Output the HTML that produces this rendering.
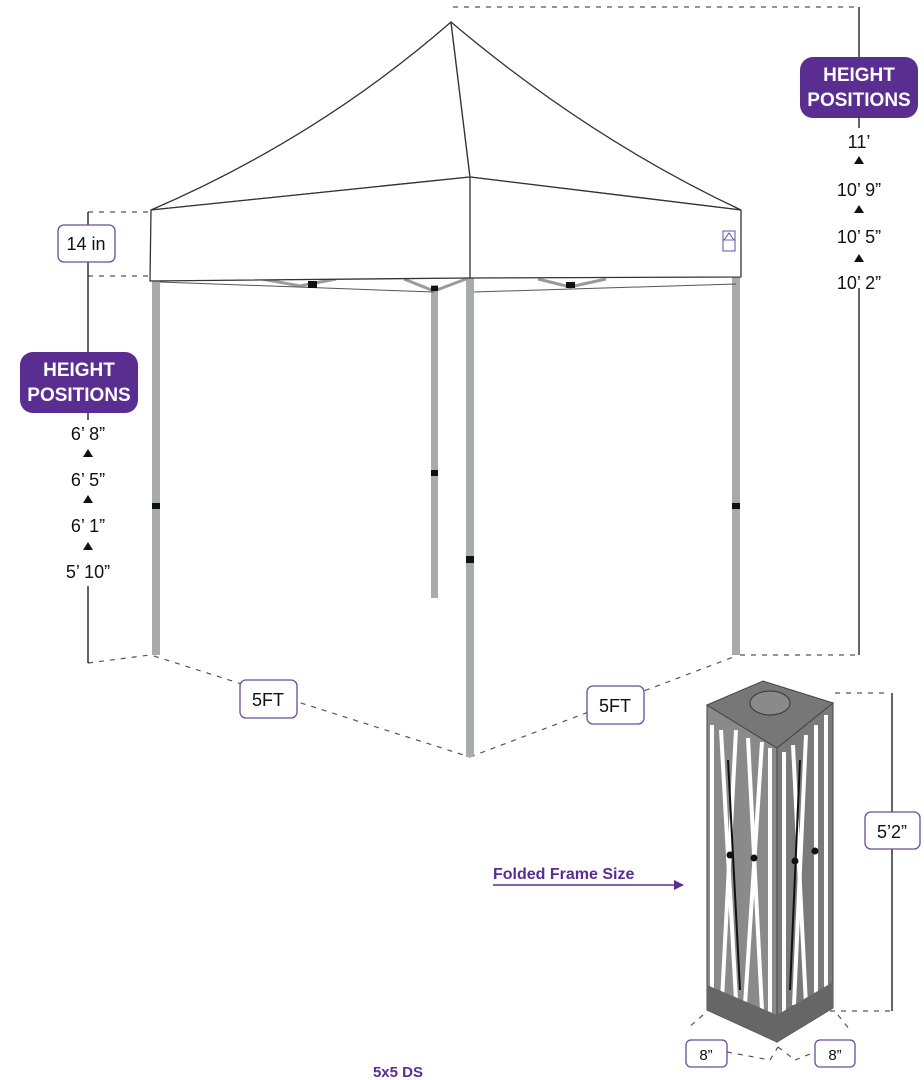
<!DOCTYPE html>
<html><head><meta charset="utf-8"><style>
html,body{margin:0;padding:0;background:#fff;}
svg{display:block;}
text{font-family:"Liberation Sans",sans-serif;}
</style></head><body>
<svg width="924" height="1080" viewBox="0 0 924 1080" xmlns="http://www.w3.org/2000/svg">
<g stroke="#555" stroke-width="1.2" stroke-dasharray="5,6" fill="none">
<line x1="453" y1="7" x2="858" y2="7"/>
<line x1="740" y1="655" x2="858" y2="655"/>
<line x1="88" y1="212" x2="150" y2="212"/>
<line x1="88" y1="276" x2="150" y2="276"/>
<line x1="88" y1="663" x2="150" y2="655"/>
<line x1="154" y1="656" x2="470" y2="757"/>
<line x1="470" y1="757" x2="736" y2="656"/>
<line x1="835" y1="693" x2="890" y2="693"/>
<line x1="830" y1="1011" x2="890" y2="1011"/>
<line x1="703" y1="1015" x2="688" y2="1028"/>
<line x1="727" y1="1052" x2="770" y2="1060"/>
<line x1="770" y1="1060" x2="778" y2="1047"/>
<line x1="778" y1="1047" x2="795" y2="1060"/>
<line x1="795" y1="1060" x2="815" y2="1052"/>
<line x1="838" y1="1015" x2="850" y2="1030"/>
</g>
<g stroke="#111" stroke-width="1.3" fill="none">
<polyline points="88,212 88,226"/>
<line x1="88" y1="262" x2="88" y2="352"/>
<line x1="88" y1="413" x2="88" y2="420"/>
<line x1="88" y1="586" x2="88" y2="663"/>
<line x1="859" y1="7" x2="859" y2="57"/>
<line x1="859" y1="118" x2="859" y2="128"/>
<line x1="859" y1="288" x2="859" y2="655"/>
<line x1="892" y1="693" x2="892" y2="812"/>
<line x1="892" y1="849" x2="892" y2="1011"/>
</g>
<g fill="#a9aaab">
<rect x="152" y="281" width="8" height="374"/>
<rect x="466" y="278" width="8" height="479"/>
<rect x="732" y="277" width="8" height="378"/>
<rect x="431" y="285" width="7" height="313"/>
</g>
<g fill="#111">
<rect x="152" y="503" width="8" height="6"/>
<rect x="466" y="556" width="8" height="7"/>
<rect x="732" y="503" width="8" height="6"/>
<rect x="431" y="470" width="7" height="6"/>
</g>
<g stroke="#9a9a9a" stroke-width="3" fill="none">
<polyline points="262,279 300,286 336,279"/>
<polyline points="404,279 434,291 466,279"/>
<polyline points="538,279 570,287 606,279"/>
</g>
<g stroke="#555" stroke-width="1" fill="none">
<line x1="160" y1="282" x2="434" y2="292"/>
<line x1="474" y1="292" x2="736" y2="284"/>
</g>
<rect x="308" y="281" width="9" height="7" fill="#111"/>
<rect x="431" y="286" width="7" height="5" fill="#111"/>
<rect x="566" y="282" width="9" height="6" fill="#111"/>
<g stroke="#333" stroke-width="1.3" fill="#fff" stroke-linejoin="round">
<path d="M451,22 Q318,138 151,210 L470,177 Z"/>
<path d="M451,22 Q588,138 741,210 L470,177 Z"/>
<polygon points="151,210 470,177 741,210 741,277 470,278 150,281"/>
<line x1="470" y1="177" x2="470" y2="278"/>
</g>
<rect x="723" y="231" width="12" height="20" fill="#fff" stroke="#6a4aa8" stroke-width="1"/>
<polygon points="729,233 724,240 734,240" fill="none" stroke="#3a3a9a" stroke-width="0.8"/>
<g fill="#fff" stroke="#6b4a9a" stroke-width="1.3">
<rect x="58" y="225" width="57" height="37" rx="6"/>
<rect x="240" y="680" width="57" height="38" rx="6"/>
<rect x="587" y="686" width="57" height="38" rx="6"/>
<rect x="865" y="812" width="55" height="37" rx="6"/>
<rect x="686" y="1040" width="41" height="27" rx="5"/>
<rect x="815" y="1040" width="40" height="27" rx="5"/>
</g>
<g font-size="18" fill="#111" text-anchor="middle">
<text x="86" y="250">14 in</text>
<text x="268" y="706">5FT</text>
<text x="615" y="712">5FT</text>
<text x="892" y="838">5’2”</text>
<text x="706" y="1060" font-size="15">8”</text>
<text x="835" y="1060" font-size="15">8”</text>
</g>
<rect x="20" y="352" width="118" height="61" rx="13" fill="#5a2d91"/>
<rect x="800" y="57" width="118" height="61" rx="13" fill="#5a2d91"/>
<g fill="#fff" font-size="19" font-weight="bold" text-anchor="middle">
<text x="79" y="376">HEIGHT</text>
<text x="79" y="401">POSITIONS</text>
<text x="859" y="81">HEIGHT</text>
<text x="859" y="106">POSITIONS</text>
</g>
<g font-size="18" fill="#111" text-anchor="middle">
<text x="88" y="440">6’ 8”</text>
<text x="88" y="486">6’ 5”</text>
<text x="88" y="532">6’ 1”</text>
<text x="88" y="578">5’ 10”</text>
<text x="859" y="148">11’</text>
<text x="859" y="196">10’ 9”</text>
<text x="859" y="243">10’ 5”</text>
<text x="859" y="289">10’ 2”</text>
</g>
<g fill="#111">
<polygon points="88,449 83,457 93,457"/>
<polygon points="88,495 83,503 93,503"/>
<polygon points="88,542 83,550 93,550"/>
<polygon points="859,156 854,164 864,164"/>
<polygon points="859,205 854,213 864,213"/>
<polygon points="859,254 854,262 864,262"/>
</g>
<g stroke="#444" stroke-width="1">
<polygon points="707,705 777,748 777,1042 707,1010" fill="#8a8a8a"/>
<polygon points="777,748 833,703 833,1008 777,1042" fill="#7a7a7a"/>
<polygon points="707,705 763,681 833,703 777,748" fill="#777"/>
</g>
<ellipse cx="770" cy="703" rx="20" ry="12" fill="#8a8a8a" stroke="#333"/>
<g stroke="#fff" stroke-width="4">
<line x1="712" y1="725" x2="712" y2="995"/>
<line x1="721" y1="730" x2="736" y2="1000"/>
<line x1="736" y1="730" x2="722" y2="1000"/>
<line x1="748" y1="738" x2="762" y2="1010"/>
<line x1="762" y1="742" x2="745" y2="1005"/>
<line x1="770" y1="748" x2="770" y2="1015"/>
<line x1="784" y1="752" x2="784" y2="1015"/>
<line x1="793" y1="745" x2="806" y2="1005"/>
<line x1="806" y1="735" x2="794" y2="1005"/>
<line x1="816" y1="725" x2="816" y2="1000"/>
<line x1="826" y1="715" x2="826" y2="995"/>
</g>
<g fill="#666">
<polygon points="707,985 777,1015 777,1042 707,1010"/>
<polygon points="777,1015 833,982 833,1008 777,1042"/>
</g>
<g stroke="#111" stroke-width="2">
<line x1="728" y1="760" x2="740" y2="990"/>
<line x1="800" y1="760" x2="790" y2="990"/>
</g>
<g fill="#111">
<circle cx="730" cy="855" r="3.5"/><circle cx="754" cy="858" r="3.5"/>
<circle cx="795" cy="861" r="3.5"/><circle cx="815" cy="851" r="3.5"/>
</g>
<text x="493" y="879" font-size="16" font-weight="bold" fill="#5a2d91">Folded Frame Size</text>
<line x1="493" y1="885" x2="676" y2="885" stroke="#5a2d91" stroke-width="1.5"/>
<polygon points="684,885 674,880 674,890" fill="#5a2d91"/>
<text x="398" y="1077" font-size="15" font-weight="bold" fill="#5a2d91" text-anchor="middle">5x5 DS</text>
</svg>
</body></html>
